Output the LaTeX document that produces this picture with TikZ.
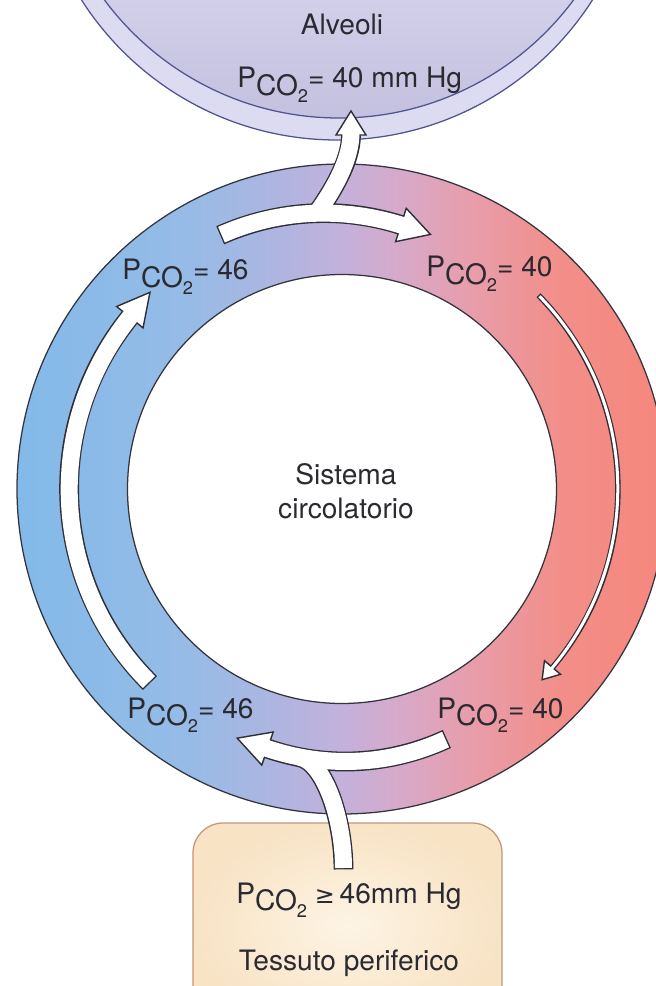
\documentclass[tikz,border=0pt]{standalone}
\usepackage{fontspec}
\setmainfont{TeX Gyre Heros}
\newfontfamily\symfont{DejaVu Sans}
\usetikzlibrary{calc}

\definecolor{ringA}{HTML}{82BAE9}
\definecolor{ringB}{HTML}{98BBE6}
\definecolor{ringC}{HTML}{AEB5E0}
\definecolor{ringD}{HTML}{C3B1DB}
\definecolor{ringE}{HTML}{D7A9C9}
\definecolor{ringF}{HTML}{E89DAA}
\definecolor{ringG}{HTML}{F28E88}
\definecolor{ringH}{HTML}{F6877D}
\definecolor{ringline}{HTML}{34343F}
\definecolor{alvband}{HTML}{DCDBF1}
\definecolor{alvtop}{HTML}{D1CFE9}
\definecolor{alvbot}{HTML}{C4C0DF}
\definecolor{alvline}{HTML}{50548F}
\definecolor{boxin}{HTML}{FDF4E4}
\definecolor{boxout}{HTML}{F8E3C5}
\definecolor{boxline}{HTML}{C4967A}
\definecolor{arrline}{HTML}{2E2E38}
\definecolor{txt}{HTML}{2A2A30}

% blue -> lavender -> salmon across the ring (25bp..75bp spans the ring's width)
\pgfdeclarehorizontalshading{ringshade}{100bp}{%
  color(0bp)=(ringA); color(25bp)=(ringA); color(39bp)=(ringB);
  color(45bp)=(ringC); color(50bp)=(ringD); color(54.5bp)=(ringE);
  color(60bp)=(ringF); color(67bp)=(ringG); color(75bp)=(ringH);
  color(100bp)=(ringH)}

% P with lowered CO and a smaller subscript 2
\newcommand\pcotwo{P\raisebox{-0.27em}{CO\raisebox{-0.25em}{\fontsize{13}{13}\selectfont 2}}}

% white arrow head with dark outline: base point, direction, width, length
\newcommand\arrowhead[4]{%
  \filldraw[headsty] ($(#1)+({#2+90}:{#3/2})$) -- ($(#1)+(#2:#4)$)
    -- ($(#1)+({#2-90}:{#3/2})$) -- cycle;}

\tikzset{
  lbl/.style={font=\fontsize{20}{24}\selectfont, text=txt, inner sep=0pt},
  shaftout/.style={draw=arrline, line width=0.495cm},
  shaftin/.style={draw=white, line width=0.425cm},
  thinout/.style={draw=arrline, line width=0.14cm},
  thinin/.style={draw=white, line width=0.075cm},
  headsty/.style={fill=white, draw=arrline, line width=0.035cm, line join=miter},
}

\begin{document}
\begin{tikzpicture}[x=0.025cm, y=0.025cm]
\useasboundingbox (-342,-497) rectangle (314,489);
\clip (-342,-497) rectangle (314,489);

% centres of the round shapes
\coordinate (ringc) at (0,0);
\coordinate (alvc) at (-5,652);
\coordinate (alvic) at (-3,663);
\coordinate (topc) at (-18,23);
\coordinate (botc) at (3.3,-33.6);

% alveoli
\filldraw[fill=alvband, draw=alvline, line width=0.9pt] (alvc) circle[radius=303];
\begin{scope}
  \clip (alvic) circle[radius=292];
  \shade[top color=alvtop, bottom color=alvbot] (-342,371) rectangle (314,489);
\end{scope}
\draw[alvline, line width=0.9pt] (alvic) circle[radius=292];

% circulation ring
\shade[shading=ringshade, even odd rule] (ringc) circle[radius=325] (ringc) circle[radius=214.5];
\draw[ringline, line width=0.9pt] (ringc) circle[radius=325] (ringc) circle[radius=214.5];

% peripheral tissue box
\shade[inner color=boxin, outer color=boxout, rounded corners=0.75cm] (-149,-540) rectangle (160,-334);
\draw[boxline, line width=0.9pt, rounded corners=0.75cm] (-149,-540) rectangle (160,-334);

% arrow head bases
\coordinate (hTop) at ($(topc)+(72.3:253)$);
\coordinate (hUp) at (9,354);
\coordinate (hLeft) at (141:273);
\coordinate (hRight) at (-40.3:276);
\coordinate (hBot) at ($(botc)+(-109:239)$);
\coordinate (upStart) at (-25,276);
\coordinate (lowStart) at (1.5,-379);
\coordinate (lowJoin) at (-42.3,-268.2);

% arrow bodies: dark outline pass
\draw[shaftout, shorten <=-0.035cm] ($(topc)+(113.9:253)$) arc[start angle=113.9, end angle=72.3, radius=253];
\draw[shaftout] (upStart) .. controls (-14.7,290.7) and (9,325) .. (hUp);
\draw[shaftout, shorten <=-0.035cm] (225:273) arc[start angle=225, end angle=141, radius=273];
\draw[thinout, shorten <=-0.035cm] (44.3:276) arc[start angle=44.3, end angle=-40.3, radius=276];
\draw[shaftout, shorten <=-0.035cm] ($(botc)+(-65.2:239)$) arc[start angle=-65.2, end angle=-109, radius=239];
\draw[shaftout, shorten <=-0.035cm] (lowStart) .. controls (1.5,-330) and (-17.8,-273) .. (lowJoin);

% arrow heads
\arrowhead{hTop}{-17.7}{35}{31}
\arrowhead{hUp}{90}{30}{24}
\arrowhead{hLeft}{51}{34}{32}
\arrowhead{hRight}{-130.3}{21}{16}
\arrowhead{hBot}{161}{35}{32}

% arrow bodies: white fill pass
\draw[shaftin, shorten >=-0.05cm] ($(topc)+(113.9:253)$) arc[start angle=113.9, end angle=72.3, radius=253];
\draw[shaftin, shorten >=-0.05cm] (upStart) .. controls (-14.7,290.7) and (9,325) .. (hUp);
\draw[shaftin, shorten >=-0.05cm] (225:273) arc[start angle=225, end angle=141, radius=273];
\draw[thinin, shorten >=-0.05cm] (44.3:276) arc[start angle=44.3, end angle=-40.3, radius=276];
\draw[shaftin, shorten >=-0.05cm] ($(botc)+(-65.2:239)$) arc[start angle=-65.2, end angle=-109, radius=239];
\draw[shaftin] (lowStart) .. controls (1.5,-330) and (-17.8,-273) .. (lowJoin);

% labels
\node[lbl, anchor=base] (alv) at (0,454) {Alveoli};
\node[lbl, anchor=base west] (alvp) at (-105,401) {\pcotwo= 40 mm Hg};
\node[lbl, anchor=base west] (ul) at (-220,209) {\pcotwo= 46};
\node[lbl, anchor=base west] (ur) at (84,212) {\pcotwo= 40};
\node[lbl, anchor=base west] (ll) at (-215,-229) {\pcotwo= 46};
\node[lbl, anchor=base west] (lr) at (95,-229) {\pcotwo= 40};
\node[lbl, anchor=base] (sis) at (4,4) {Sistema};
\node[lbl, anchor=base] (circ) at (4,-29) {circolatorio};
\node[lbl, anchor=base west] (tisp) at (-106,-414) {\pcotwo\ {\symfont\fontsize{17}{20}\selectfont ≥}\,46mm Hg};
\node[lbl, anchor=base] (tis) at (7,-481) {Tessuto periferico};
\end{tikzpicture}
\end{document}
